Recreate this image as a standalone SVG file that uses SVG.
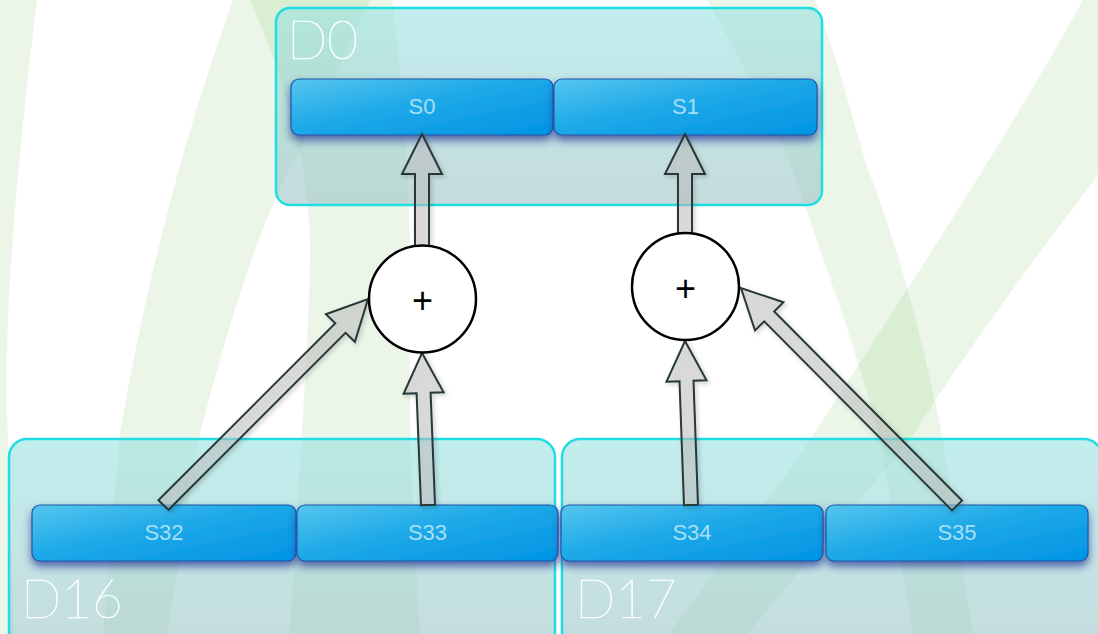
<svg xmlns="http://www.w3.org/2000/svg" width="1098" height="634" viewBox="0 0 1098 634">
  <defs>
    <linearGradient id="groupFill" x1="0" y1="0" x2="0" y2="1">
      <stop offset="0" stop-color="#96e1e1" stop-opacity="0.58"/>
      <stop offset="1" stop-color="#96bec0" stop-opacity="0.55"/>
    </linearGradient>
    <linearGradient id="slotFill" x1="0" y1="0" x2="1" y2="1">
      <stop offset="0" stop-color="#55c6ee"/>
      <stop offset="0.45" stop-color="#1ea9e8"/>
      <stop offset="1" stop-color="#0094e4"/>
    </linearGradient>
    <filter id="slotShadow" x="-5%" y="-20%" width="110%" height="160%">
      <feDropShadow dx="0" dy="5" stdDeviation="4" flood-color="#2c3a96" flood-opacity="0.75"/>
    </filter>
    <filter id="arrowShadow" x="-20%" y="-20%" width="140%" height="140%">
      <feDropShadow dx="2" dy="2" stdDeviation="2" flood-color="#000" flood-opacity="0.22"/>
    </filter>
    <style>
      .band { fill: #82c86e; fill-opacity: 0.155; }
      .group { fill: url(#groupFill); stroke: #1fdde2; stroke-width: 2.5; }
      .glabel { font-family: "Lato", "Liberation Sans", sans-serif; font-weight: 100; font-size: 53px; fill: #ffffff; stroke: #ffffff; stroke-width: 0.6; }
      .slot rect { fill: url(#slotFill); stroke: #1f55a8; stroke-width: 1.2; filter: url(#slotShadow); }
      .slot text { font-family: "Liberation Sans", Arial, sans-serif; font-size: 22px; fill: #a9def4; text-anchor: middle; }
      .adder circle { fill: #ffffff; stroke: #000000; stroke-width: 2.5; }
      .adder text { font-family: "Liberation Sans", Arial, sans-serif; font-size: 36px; fill: #000000; text-anchor: middle; }
      .arrow { fill: #c4c4c4; fill-opacity: 0.5; stroke: #263838; stroke-width: 2; stroke-linejoin: miter; filter: url(#arrowShadow); }
    </style>
  </defs>

  <rect x="0" y="0" width="1098" height="634" fill="#ffffff"/>

  <!-- soft green backdrop bands -->
  <g id="backdrop">
    <path class="band" d="M0,0 L37,0 Q0,300 8,440 L14,634 L0,634 Z"/>
    <path class="band" d="M233,0 C190,120 150,260 120,433 L103,634 L167,634 L200,433 C230,320 260,220 300,150 L370,0 Z"/>
    <path class="band" d="M250,0 C290,90 312,180 310,260 C308,360 300,450 290,634 L420,634 C412,500 408,400 410,300 C411,200 405,100 392,0 Z"/>
    <path class="band" d="M707,0 C740,60 780,130 800,190 C830,280 860,360 880,440 L913,634 L973,634 L943,440 C925,350 900,250 867,167 C850,110 835,50 815,0 Z"/>
    <path class="band" d="M1083,0 L1110,0 L1110,160 C1040,250 960,360 910,440 L747,634 L670,634 C720,560 770,500 810,440 C900,300 1000,150 1083,0 Z"/>
  </g>

  <!-- group containers -->
  <g id="D0">
    <rect class="group" x="276" y="8" width="546" height="197" rx="14"/>
    <text class="glabel" x="287" y="59">D0</text>
  </g>
  <g id="D16">
    <rect class="group" x="9" y="439" width="546" height="215" rx="18"/>
    <text class="glabel" x="21" y="618">D16</text>
  </g>
  <g id="D17">
    <rect class="group" x="562" y="439" width="540" height="215" rx="18"/>
    <text class="glabel" x="575" y="618">D17</text>
  </g>

  <!-- slots -->
  <g id="S0" class="slot">
    <rect x="291" y="79" width="262" height="56" rx="8"/>
    <text x="422" y="114">S0</text>
  </g>
  <g id="S1" class="slot">
    <rect x="554" y="79" width="263" height="56" rx="8"/>
    <text x="685.5" y="114">S1</text>
  </g>
  <g id="S32" class="slot">
    <rect x="32" y="505" width="264" height="56" rx="8"/>
    <text x="164" y="540">S32</text>
  </g>
  <g id="S33" class="slot">
    <rect x="297" y="505" width="261" height="56" rx="8"/>
    <text x="427.5" y="540">S33</text>
  </g>
  <g id="S34" class="slot">
    <rect x="561" y="505" width="262" height="56" rx="8"/>
    <text x="692" y="540">S34</text>
  </g>
  <g id="S35" class="slot">
    <rect x="826" y="505" width="262" height="56" rx="8"/>
    <text x="957" y="540">S35</text>
  </g>

  <!-- block-arrow connectors -->
  <g id="connectors">
    <polygon class="arrow" points="415,248 415,174 402,174 422,134 442,174 429,174 429,248"/>
    <polygon class="arrow" points="678,236 678,174 665,174 685,134 705,174 692,174 692,236"/>
    <polygon class="arrow" points="158.4,500.2 335.3,323.2 325.9,314.2 368,299 354.9,341.8 345.5,332.8 168.6,509.8"/>
    <polygon class="arrow" points="421,505.3 416.6,393.3 403.6,393.8 422,353 443.6,392.2 430.6,392.7 435,504.7"/>
    <polygon class="arrow" points="684,505.3 679.5,381.3 666.5,381.7 685,341 706.5,380.3 693.5,380.7 698,504.7"/>
    <polygon class="arrow" points="952,510.4 764.2,321.3 755,330.5 741,288 783.4,302.3 774.2,311.5 962,500.6"/>
  </g>

  <!-- adders -->
  <g id="add0" class="adder">
    <circle cx="422.5" cy="299" r="53.5"/>
    <text x="422.5" y="312.5">+</text>
  </g>
  <g id="add1" class="adder">
    <circle cx="685.5" cy="286.5" r="53.5"/>
    <text x="685.5" y="301">+</text>
  </g>
</svg>
